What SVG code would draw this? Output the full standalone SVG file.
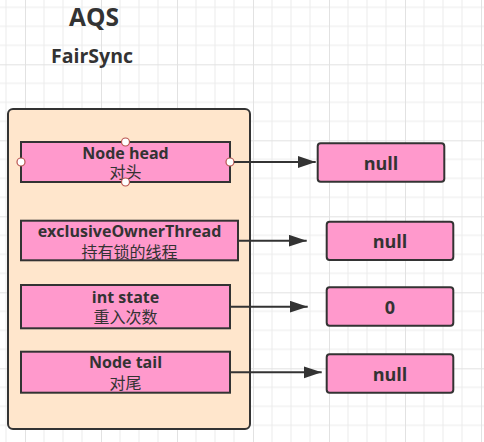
<svg xmlns="http://www.w3.org/2000/svg" width="484" height="442" viewBox="0 0 484 442">
<defs>
<pattern id="grid" x="25" y="64.3" width="76" height="76" patternUnits="userSpaceOnUse">
<rect x="0" y="0" width="76" height="76" fill="#ffffff"/>
<rect x="18.5" y="0" width="1" height="76" fill="#ececec"/>
<rect x="37.5" y="0" width="1" height="76" fill="#ececec"/>
<rect x="56.5" y="0" width="1" height="76" fill="#ececec"/>
<rect x="0" y="18.5" width="76" height="1" fill="#ececec"/>
<rect x="0" y="37.5" width="76" height="1" fill="#ececec"/>
<rect x="0" y="56.5" width="76" height="1" fill="#ececec"/>
<rect x="-0.5" y="0" width="1.5" height="76" fill="#e2e2e2"/>
<rect x="0" y="-0.5" width="76" height="1.5" fill="#e2e2e2"/>
</pattern>
<marker id="arrow" markerUnits="userSpaceOnUse" markerWidth="19" markerHeight="13" refX="18" refY="6" orient="auto">
<path d="M0,0 L18,6 L0,12 Z" fill="#333333"/>
</marker>
<style>
.box{fill:#ff99cc;stroke:#333333;stroke-width:2}
.val{fill:#ff99cc;stroke:#333333;stroke-width:2}
.t{font-family:"Open Sans","Noto Sans CJK SC",sans-serif;font-weight:700;font-size:16px;fill:#333333;text-anchor:middle}
.cn{font-family:"Noto Sans CJK SC",sans-serif;font-weight:400}
.v{font-family:"Open Sans",sans-serif;font-weight:700;font-size:18px;fill:#333333;text-anchor:middle}
.title{font-family:"Open Sans",sans-serif;font-weight:700;fill:#333333;text-anchor:middle}
.pt{fill:#ffffff;stroke:#b85450;stroke-width:1.2}
.conn{stroke:#333333;stroke-width:2;fill:none}
</style>
</defs>
<rect x="0" y="0" width="484" height="442" fill="url(#grid)"/>
<g id="titles">
<text class="title" x="94" y="26" font-size="24.5">AQS</text>
<text class="title" x="92" y="63" font-size="19.5">FairSync</text>
</g>
<g id="container">
<rect x="8" y="109" width="242" height="320" rx="5" fill="#ffe6cc" stroke="#333333" stroke-width="2"/>
</g>
<g id="node-head">
<rect class="box" x="21" y="142" width="209" height="40"/>
<text class="t"><tspan x="125.5" y="158.7">Node head</tspan><tspan class="cn" x="125.5" y="178">对头</tspan></text>
<circle class="pt" cx="125.5" cy="142" r="4"/>
<circle class="pt" cx="125.5" cy="182" r="4"/>
<circle class="pt" cx="21" cy="162" r="4"/>
<circle class="pt" cx="230" cy="162" r="4"/>
</g>
<g id="node-owner">
<rect class="box" x="21" y="220.7" width="217" height="39.6"/>
<text class="t"><tspan x="129.5" y="236.7">exclusiveOwnerThread</tspan><tspan class="cn" x="129.5" y="257.5">持有锁的线程</tspan></text>
</g>
<g id="node-state">
<rect class="box" x="21" y="285" width="209" height="43.3"/>
<text class="t"><tspan x="125.5" y="302.7">int state</tspan><tspan class="cn" x="125.5" y="323">重入次数</tspan></text>
</g>
<g id="node-tail">
<rect class="box" x="21" y="351.7" width="209" height="41"/>
<text class="t"><tspan x="125.5" y="368.3">Node tail</tspan><tspan class="cn" x="125.5" y="388.5">对尾</tspan></text>
</g>
<g id="connectors">
<line class="conn" x1="234" y1="162" x2="315.7" y2="162" marker-end="url(#arrow)"/>
<line class="conn" x1="238" y1="240.7" x2="306.7" y2="240.7" marker-end="url(#arrow)"/>
<line class="conn" x1="230" y1="306.7" x2="307.7" y2="306.7" marker-end="url(#arrow)"/>
<line class="conn" x1="230" y1="372.3" x2="321.7" y2="372.3" marker-end="url(#arrow)"/>
</g>
<g id="val-head">
<rect class="val" x="317.7" y="143.3" width="126.6" height="38.4" rx="3"/>
<text class="v" x="381" y="170">null</text>
</g>
<g id="val-owner">
<rect class="val" x="326.7" y="221.7" width="126.6" height="38.3" rx="3"/>
<text class="v" x="390" y="248.3">null</text>
</g>
<g id="val-state">
<rect class="val" x="326.7" y="287.3" width="126.6" height="38.4" rx="3"/>
<text class="v" x="390" y="313.5">0</text>
</g>
<g id="val-tail">
<rect class="val" x="326.7" y="354.3" width="126.6" height="38.4" rx="3"/>
<text class="v" x="390" y="381">null</text>
</g>
</svg>
